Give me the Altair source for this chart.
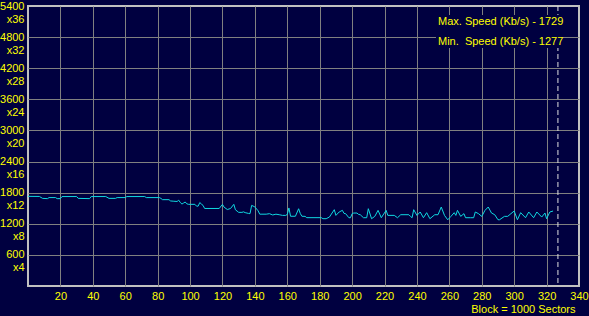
import altair as alt
import pandas as pd

# Block position (x 1000 sectors) and read speed (Kb/s)
blocks = [0, 7, 9, 12, 13, 17, 18, 20, 21, 30, 31, 38, 39, 48, 50, 54, 55, 60, 61, 72,
          73, 81, 82, 83, 87, 88, 90, 92, 93, 94, 95, 96, 97, 98, 99, 103, 104, 105, 106, 107,
          108, 109, 118, 120, 121, 123, 125, 127, 128, 129, 130, 132, 133, 134, 136, 137, 138, 140, 142, 143,
          147, 149, 151, 153, 155, 157, 159, 160, 161, 162, 165, 167, 168, 169, 171, 172, 181, 182, 184, 186,
          189, 190, 192, 194, 195, 196, 198, 199, 200, 201, 203, 204, 205, 207, 209, 210, 212, 214, 216, 218,
          221, 222, 224, 226, 228, 230, 235, 236, 237, 238, 240, 242, 244, 246, 248, 251, 253, 255, 257, 259,
          261, 263, 264, 265, 267, 269, 270, 273, 275, 276, 278, 280, 282, 284, 286, 288, 290, 291, 294, 296,
          298, 300, 302, 304, 307, 309, 312, 314, 317, 319, 320, 322, 324]
speeds = [1729, 1727, 1690, 1685, 1705, 1705, 1685, 1685, 1725, 1725, 1690, 1685, 1725, 1725, 1690, 1690, 1705, 1705, 1725, 1725,
          1705, 1705, 1690, 1665, 1665, 1640, 1635, 1630, 1655, 1610, 1580, 1600, 1620, 1585, 1575, 1575, 1540, 1540, 1610, 1580,
          1555, 1495, 1495, 1575, 1520, 1475, 1495, 1575, 1470, 1445, 1420, 1420, 1430, 1415, 1400, 1395, 1555, 1525, 1450, 1385,
          1385, 1395, 1370, 1385, 1375, 1362, 1362, 1380, 1505, 1345, 1345, 1490, 1400, 1345, 1343, 1318, 1318, 1298, 1298, 1330,
          1472, 1362, 1427, 1459, 1400, 1395, 1317, 1317, 1395, 1407, 1407, 1380, 1375, 1317, 1317, 1491, 1298, 1343, 1459, 1317,
          1459, 1362, 1362, 1362, 1317, 1375, 1375, 1343, 1317, 1472, 1362, 1427, 1317, 1414, 1298, 1375, 1375, 1523, 1362, 1277,
          1343, 1414, 1362, 1459, 1343, 1395, 1317, 1317, 1317, 1427, 1395, 1343, 1459, 1523, 1407, 1375, 1278, 1278, 1343, 1343,
          1395, 1446, 1278, 1414, 1317, 1427, 1317, 1427, 1330, 1407, 1298, 1427, 1446]

x_ticks = list(range(20, 341, 20))
y_ticks = list(range(600, 5401, 600))
current_block = [327]
max_note = "Max. Speed (Kb/s) - 1729"
min_note = "Min.\u00a0 Speed (Kb/s) - 1277"

df = pd.DataFrame({"block": blocks, "speed": speeds})

NAVY = "#000040"
YELLOW = "#FFFF00"
FONT = "Liberation Sans"

x_scale = alt.Scale(domain=[0, 340], nice=False, zero=False)
x_enc = alt.X(
    "block:Q",
    scale=x_scale,
    axis=alt.Axis(
        values=x_ticks, grid=True, ticks=False, domain=False,
        labelColor=YELLOW, labelFont=FONT, labelFontSize=11, labelPadding=4,
        labelFlush=False, labelOverlap=False,
        gridColor="#808080", gridWidth=1,
        gridOpacity={"condition": {"test": "datum.value >= 340", "value": 0}, "value": 1},
        title="Block = 1000 Sectors", titleColor=YELLOW, titleFont=FONT,
        titleFontSize=11, titleFontWeight="normal", titleAlign="right",
        titleX=547, titleY=26, titleBaseline="alphabetic",
    ),
)
y_enc = alt.Y(
    "speed:Q",
    scale=alt.Scale(domain=[0, 5400], nice=False, zero=True),
    axis=alt.Axis(
        values=y_ticks, grid=True, ticks=False, domain=False,
        labelExpr="[format(datum.value, 'd'), 'x' + format(datum.value / 150, 'd')]",
        labelColor=YELLOW, labelFont=FONT, labelFontSize=11, labelPadding=4,
        labelLineHeight=13, labelBaseline="middle", labelOffset=0,
        labelFlush=False, labelOverlap=False, labelBound=False,
        gridColor="#808080", gridWidth=1,
        gridOpacity={"condition": {"test": "datum.value >= 5400", "value": 0}, "value": 1},
        title=None,
    ),
)

line = alt.Chart(df).mark_line(color="#10D8E0", strokeWidth=1, interpolate="linear").encode(x=x_enc, y=y_enc)

rule = alt.Chart(pd.DataFrame({"block": current_block})).mark_rule(
    color="#E0E0E0", strokeDash=[5, 3], strokeWidth=1
).encode(x=alt.X("block:Q", scale=x_scale, axis=None))

# navy backing box behind the speed notes (hides the grid there, as in the original)
note_box = alt.Chart(pd.DataFrame({"t": [max_note]})).mark_rect(color=NAVY).encode(
    x=alt.value(408), x2=alt.value(535), y=alt.value(9), y2=alt.value(42)
)

text_max = alt.Chart(pd.DataFrame({"t": [max_note]})).mark_text(
    align="left", baseline="middle", color=YELLOW, font=FONT, fontSize=11
).encode(x=alt.value(410), y=alt.value(16), text="t:N")
text_min = alt.Chart(pd.DataFrame({"t": [min_note]})).mark_text(
    align="left", baseline="middle", color=YELLOW, font=FONT, fontSize=11
).encode(x=alt.value(410), y=alt.value(36), text="t:N")

chart = alt.layer(line, rule, note_box, text_max, text_min).resolve_axis(x="independent").properties(
    width=551, height=280,
    background=NAVY,
    padding={"left": 28, "top": 6, "right": 10, "bottom": 30},
    autosize=alt.AutoSizeParams(type="none"),
).configure_view(
    stroke="#C0C0C0", strokeWidth=2, fill=NAVY
)

chart.save("out.html", embed_options={"renderer": "svg", "actions": False})
